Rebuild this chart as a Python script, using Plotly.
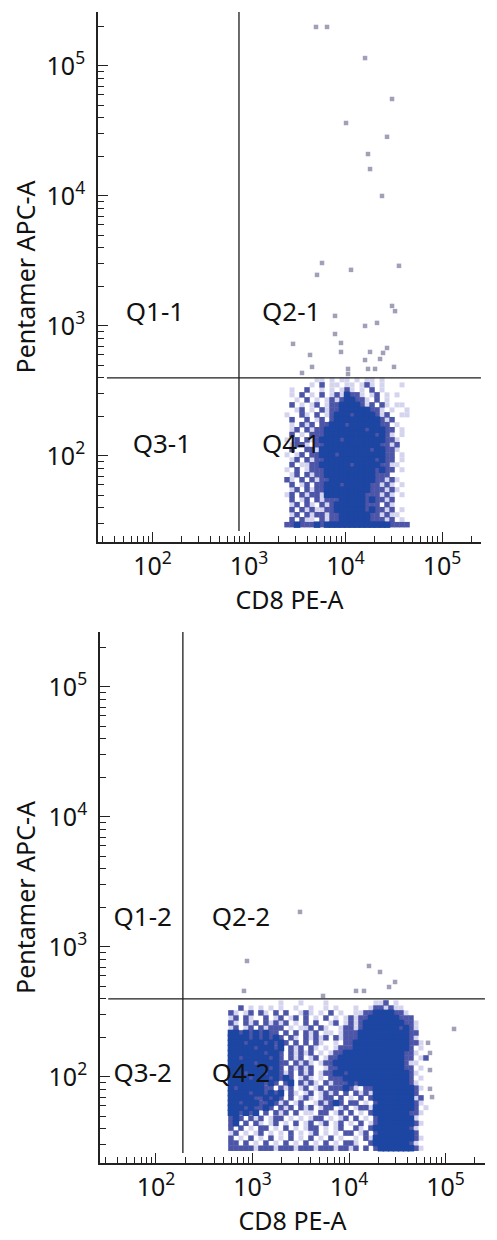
import plotly.graph_objects as go

# ---- panel 1 data ----
x_bins_1 = [2477, 2791, 3145, 3543, 3992, 4498, 5068, 5710, 6434, 7249, 8167, 9202, 10368,
            11682, 13162, 14830, 16709, 18826, 21211, 23899, 26927, 30339, 34183, 38514, 43394]
y_bins_1 = [385, 352, 322, 295, 270, 247, 226, 207, 190, 174, 159, 146, 133, 122, 112, 102,
            93.5, 85.6, 78.3, 71.7, 65.6, 60.1, 55, 50.3, 46.1, 42.2, 38.6, 35.3, 32.3, 29.6]
density_1 = [
    "0000001101011010110100000",
    "0000010301101101310100010",
    "0100300101013101030100000",
    "0103010301314331013010100",
    "0010301013134433103010000",
    "0301013013344443130310110",
    "0013010313344444433101001",
    "1003103013444344443130011",
    "0300301303444444444313000",
    "0103130334443444444330100",
    "0130313344444444344433010",
    "0301033344444444443431010",
    "1030313444434444444433100",
    "0133103344444444444331300",
    "0300331444444444434433100",
    "1013033444344444444433010",
    "0130313344444444443433010",
    "0301133444444344444331100",
    "1030133344444444443433010",
    "0130313344444444443330000",
    "3103031334444444443313100",
    "0301303344434444433131010",
    "0130313344444444433313100",
    "1303133144444444333131010",
    "0301303133344444343313000",
    "0130310313444444333031000",
    "0303131133444444343313010",
    "0130313313344444433131100",
    "0303110313344444433313010",
    "3343334344444444444443333",
]
out_x_1 = [4943, 6431, 15930, 30340, 10120, 26920, 17100, 17950, 23880, 5707, 5065, 11400, 35800,
           30340, 32600, 7785, 21200, 15930, 7785, 2858, 8977, 8977, 17950, 26920, 24490, 4288,
           15930, 22800, 4498, 10620, 17100, 20230, 31800, 3540, 10620]
out_y_1 = [199500, 199500, 115000, 55700, 36400, 28500, 21000, 16100, 10000, 3050, 2470, 2700, 2900,
           1425, 1300, 1195, 1055, 1000, 867, 728, 740, 631, 631, 677, 620, 598,
           547, 557, 484, 467, 467, 467, 484, 435, 427]
gate_x_1 = 787
gate_y_1 = 398

# ---- panel 2 data ----
x_bins_2 = [598, 674, 759, 855, 964, 1086, 1223, 1378, 1553, 1750, 1971, 2221, 2503, 2820, 3177,
            3580, 4033, 4544, 5120, 5769, 6500, 7323, 8251, 9297, 10475, 11802, 13297, 14982,
            16880, 19018, 21428, 24143, 27202, 30648, 34531, 38906, 43835, 49389, 55647, 62697]
y_bins_2 = [371, 339, 311, 284, 260, 238, 218, 200, 183, 167, 153, 140, 128, 117, 107, 98, 90,
            82, 75, 69, 63, 58, 53, 48, 44, 40.4, 37, 33.8, 31, 28.3]
density_2 = [
    "0000000000100010000100000000011301000000",
    "0030101010100100100101000100133131100000",
    "3101303103030013101030100113344443310000",
    "1303100301301303010301013133444444333000",
    "3103130313130103030013013134444444433100",
    "1301303133301011303100133134444444343100",
    "4434343433030303130110133344444444443300",
    "4444343434303103131303133344444444443100",
    "4443444343430303031001033444444444443310",
    "4444434443403130310101333444444444443010",
    "4444444344303131301013344444444444433100",
    "4434444434303130130133444444444444433013",
    "4444434444330313101334444444444444431100",
    "4444444434303131300133444444444444433010",
    "4443444344313031301334434444444444443100",
    "4444344434343013101033344444444444443010",
    "4444444343034031310313334344444444443100",
    "4344444330313013013033343103344444444310",
    "4444344343403101301313030313144444444300",
    "4444433434303013101330301030344444444130",
    "4434443343130130013134303301034444444310",
    "4443433430313031301330130133144444444301",
    "4434340303130301103301303010344444443310",
    "3430313013301010133010130301034444444100",
    "3403031013010301301301301030134444444310",
    "3030103301030101330101300310344444443100",
    "1301013010103010130101033013034444444300",
    "3010301030103010301030100103144444444310",
    "3303010301030103010301033100344444443100",
    "3333313331333133313331331303034444444310",
]
out_x_2 = [3105, 877, 816, 5380, 11830, 14300, 16100, 20950, 30000, 26000, 122500, 65900, 69000,
           69000, 69000, 72500]
out_y_2 = [1860, 780, 459, 420, 459, 459, 714, 642, 538, 492, 234, 183, 153, 113, 81, 70]
gate_x_2 = 190
gate_y_2 = 398

# ---- labels and ticks ----
major_ticks = [100, 1000, 10000, 100000]
major_text = ["10<sup>2</sup>", "10<sup>3</sup>", "10<sup>4</sup>", "10<sup>5</sup>"]
minor_ticks = [20, 30, 40, 50, 60, 70, 80, 90, 200, 300, 400, 500, 600, 700, 800, 900,
               2000, 3000, 4000, 5000, 6000, 7000, 8000, 9000,
               20000, 30000, 40000, 50000, 60000, 70000, 80000, 90000,
               200000, 300000]
labels_1 = ["Q1-1", "Q2-1", "Q3-1", "Q4-1"]
labels_x_1 = [106, 2740, 125, 2740]
labels_y_1 = [1215, 1215, 117.3, 117.3]
labels_2 = ["Q1-2", "Q2-2", "Q3-2", "Q4-2"]
labels_x_2 = [73, 760, 73, 760]
labels_y_2 = [1640, 1640, 102, 102]
x_title = "CD8 PE-A"
y_title = "Pentamer APC-A"

LEVEL_COLORS = {"1": "#d4d4ee", "2": "#a0a0d6", "3": "#4c55a8", "4": "#1d46a3"}
LEVEL_SIZES = {"1": 5, "2": 5, "3": 5.5, "4": 6.5}
INK = "#222222"
FONT = "Noto Sans"
OFF = 8  # the page's body margin
W, H = 497 - OFF, 1240 - OFF


def add_panel(fig, xa, ya, x_bins, y_bins, density, out_x, out_y, gx, gy,
              labels, lx, ly, hstart, vend, xmax, ymax):
    pts = {k: ([], []) for k in LEVEL_COLORS}
    for row, yv in zip(density, y_bins):
        for ch, xv in zip(row, x_bins):
            if ch in pts:
                pts[ch][0].append(xv)
                pts[ch][1].append(yv)
    for k, (xs, ys) in pts.items():
        fig.add_trace(go.Scatter(x=xs, y=ys, mode="markers", xaxis=xa, yaxis=ya,
                                 marker=dict(symbol="square", size=LEVEL_SIZES[k], color=LEVEL_COLORS[k], line_width=0),
                                 showlegend=False, hoverinfo="skip"))
    fig.add_trace(go.Scatter(x=out_x, y=out_y, mode="markers", xaxis=xa, yaxis=ya,
                             marker=dict(symbol="square", size=4.5, color="#77779a", opacity=0.7, line_width=0),
                             showlegend=False, hoverinfo="skip"))
    line = dict(color="#1c1c1c", width=1.3)
    fig.add_trace(go.Scatter(x=[hstart, xmax], y=[gy, gy], mode="lines", xaxis=xa, yaxis=ya,
                             line=line, showlegend=False, hoverinfo="skip"))
    fig.add_trace(go.Scatter(x=[gx, gx], y=[vend, ymax], mode="lines", xaxis=xa, yaxis=ya,
                             line=line, showlegend=False, hoverinfo="skip"))
    fig.add_trace(go.Scatter(x=lx, y=ly, text=labels, mode="text", xaxis=xa, yaxis=ya,
                             textposition="middle center",
                             textfont=dict(family=FONT, size=26, color="#111111"),
                             showlegend=False, hoverinfo="skip"))


fig = go.Figure()
add_panel(fig, "x", "y", x_bins_1, y_bins_1, density_1, out_x_1, out_y_1, gate_x_1, gate_y_1,
          labels_1, labels_x_1, labels_y_1, 33.7, 26.5, 253000, 260000)
add_panel(fig, "x2", "y2", x_bins_2, y_bins_2, density_2, out_x_2, out_y_2, gate_x_2, gate_y_2,
          labels_2, labels_x_2, labels_y_2, 32, 26, 256000, 265000)


def axis(domain, rng, anchor, title, standoff, label_standoff):
    return dict(domain=domain, range=rng, type="log", anchor=anchor,
                tickmode="array", tickvals=major_ticks, ticktext=major_text,
                ticks="inside", ticklen=10, tickwidth=1.2, tickcolor=INK,
                minor=dict(tickmode="array", tickvals=minor_ticks, ticks="inside",
                           ticklen=6, tickwidth=1.1, tickcolor=INK),
                showline=True, linecolor=INK, linewidth=1.6, mirror=False,
                showgrid=False, zeroline=False,
                ticklabelstandoff=label_standoff,
                tickfont=dict(family=FONT, size=25, color="#111111"),
                title=dict(text=title, font=dict(family=FONT, size=25, color="#111111"), standoff=standoff))


def xdom(a, b):
    return [(a - OFF) / W, (b - OFF) / W]


def ydom(top, bottom):
    return [1 - (bottom - OFF) / H, 1 - (top - OFF) / H]


fig.update_layout(
    width=W, height=H, margin=dict(l=0, r=0, t=0, b=0, autoexpand=False),
    paper_bgcolor="white", plot_bgcolor="white", showlegend=False,
    xaxis=axis(xdom(98, 481), [1.435, 5.404], "y", x_title, 0, 1),
    yaxis=axis(ydom(12, 542), [1.338, 5.415], "x", y_title, 8, 6),
    xaxis2=axis(xdom(100, 485), [1.42, 5.409], "y2", x_title, 0, 1),
    yaxis2=axis(ydom(632, 1163), [1.338, 5.423], "x2", y_title, 8, 6),
)
fig.write_html("out.html")
